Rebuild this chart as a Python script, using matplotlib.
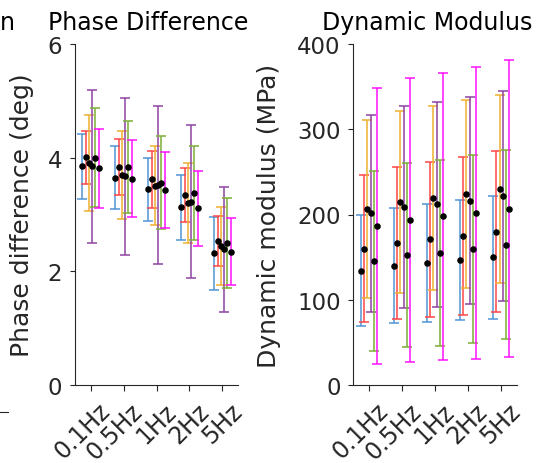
import matplotlib
matplotlib.use("Agg")
import matplotlib.pyplot as plt
from matplotlib.lines import Line2D
from matplotlib.transforms import ScaledTranslation
import numpy as np

plt.rcParams['font.family'] = ['DejaVu Sans']

# ---------------- data ----------------
freq_labels = ["0.1Hz", "0.5Hz", "1Hz", "2Hz", "5Hz"]
series_colors = ["#4f94d4", "#ff4545", "#f0b030", "#8e44a0", "#7aaf35", "#ff10ff"]
series_offsets = [-0.25, -0.15, -0.05, 0.05, 0.15, 0.25]

# Phase difference (deg): rows = frequency, cols = series
phase_mean = [
    [3.85, 4.01, 3.91, 3.845, 4.00, 3.81],
    [3.65, 3.836, 3.70, 3.67, 3.83, 3.63],
    [3.44, 3.62, 3.51, 3.52, 3.56, 3.43],
    [3.127, 3.34, 3.197, 3.225, 3.38, 3.11],
    [2.317, 2.534, 2.446, 2.388, 2.50, 2.346],
]
phase_err = [
    [0.57, 0.465, 0.84, 1.345, 0.87, 0.695],
    [0.56, 0.494, 0.775, 1.385, 0.81, 0.68],
    [0.55, 0.50, 0.70, 1.395, 0.82, 0.675],
    [0.573, 0.47, 0.703, 1.35, 0.82, 0.66],
    [0.643, 0.446, 0.681, 1.102, 0.79, 0.584],
]

# Dynamic modulus (MPa)
modulus_mean = [
    [134, 160, 206.5, 201.5, 145, 186.5],
    [140, 167, 215, 208.5, 152, 194],
    [143, 171, 219.5, 212, 155, 198],
    [146.4, 175, 224, 216.4, 159.5, 201.8],
    [150, 180, 230, 221.7, 164.8, 207],
]
modulus_err = [
    [65, 86, 104.5, 115.5, 105.6, 161.5],
    [67.6, 89, 106.8, 118.5, 108, 166.5],
    [69, 91, 108.1, 120.3, 109.3, 168.4],
    [70.2, 92.8, 110, 121.4, 110.3, 170.9],
    [72, 94.8, 110.5, 123.5, 111.2, 173.8],
]

phase_yticks = [0, 2, 4, 6]
modulus_yticks = [0, 100, 200, 300, 400]

# ---------------- figure ----------------
W, H = 536, 464
fig = plt.figure(figsize=(W / 100, H / 100), dpi=100)

ax1 = fig.add_axes([75 / W, 1 - 386 / H, 163 / W, 341 / H])
ax2 = fig.add_axes([353.3 / W, 1 - 386 / H, 163.4 / W, 341 / H])

axis_col = "#262626"


def draw(ax, mean, err, ylim, yticks, title, ylabel, label_x_px, left_px, width_px):
    mean = np.asarray(mean, dtype=float)
    err = np.asarray(err, dtype=float)
    x = np.arange(1, len(freq_labels) + 1)
    for j, col in enumerate(series_colors):
        ax.errorbar(x + series_offsets[j], mean[:, j], yerr=err[:, j], fmt='none',
                    ecolor=col, elinewidth=1.1, capsize=3.3, capthick=1.1, zorder=2)
    for j in range(len(series_colors)):
        ax.plot(x + series_offsets[j], mean[:, j], 'o', color='k', ms=3.7,
                mec='k', zorder=3, linestyle='none')
    ax.set_xlim(0.53, 5.47)
    ax.set_ylim(*ylim)
    ax.set_yticks(yticks)
    ax.set_xticks(x)
    for s in ['top', 'right']:
        ax.spines[s].set_visible(False)
    for s in ['left', 'bottom']:
        ax.spines[s].set_color(axis_col)
        ax.spines[s].set_linewidth(0.8)
    ax.tick_params(axis='y', direction='out', length=3.6, width=0.8, pad=5.5,
                   labelsize=16.5, colors=axis_col)
    ax.tick_params(axis='x', direction='out', length=4.6, width=0.8, pad=2,
                   labelsize=17, colors=axis_col)
    ax.set_xticklabels(freq_labels, rotation=45, ha='right', va='top',
                       rotation_mode='anchor')
    ax.set_title(title, fontsize=17, color='black', pad=10.8, x=0.451)
    ax.set_ylabel(ylabel, fontsize=18, color=axis_col)
    ax.yaxis.set_label_coords((label_x_px - left_px) / width_px, 0.5)


draw(ax1, phase_mean, phase_err, (0, 6), phase_yticks, "Phase Difference",
     "Phase difference (deg)", 34, 75, 163)
draw(ax2, modulus_mean, modulus_err, (0, 400), modulus_yticks, "Dynamic Modulus",
     "Dynamic modulus (MPa)", 281, 353.3, 163.4)

# shift rotated tick labels slightly right/down (applied last so it is not reset)
label_shift = ScaledTranslation(7 / 100, -4 / 100, fig.dpi_scale_trans)
for ax in (ax1, ax2):
    for tick in ax.xaxis.get_major_ticks():
        tick.label1.set_transform(tick.label1.get_transform() + label_shift)

# fragments of a neighbouring panel cut off at the left edge
fig.text(0 / W, 1 - 30 / H, "n", fontsize=17, color='black', ha='left', va='baseline')
fig.add_artist(Line2D([0 / W, 8 / W], [1 - 413 / H, 1 - 413 / H], color=axis_col,
                      linewidth=0.8, transform=fig.transFigure))

fig.savefig("out.png", dpi=100)
